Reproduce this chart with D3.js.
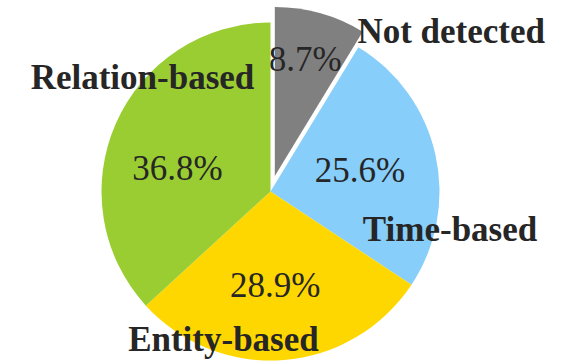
<!DOCTYPE html>
<html>
<head>
<meta charset="utf-8">
<script src="https://cdn.jsdelivr.net/npm/d3@7.9.0/dist/d3.min.js"></script>
<style>
  html, body { margin: 0; padding: 0; background: #fff; }
  svg { display: block; }
  svg text { font-family: 'Liberation Serif', 'Times New Roman', Times, serif; fill: #262626; }
</style>
</head>
<body>
<svg width="582" height="364"></svg>
<script>
// data
let categories = ['Not detected', 'Time-based', 'Entity-based', 'Relation-based'];
let shares = [8.7, 25.6, 28.9, 36.8];
let sliceColors = ['#808080', '#87cefa', '#ffd700', '#9acd32'];

// label placement: [angle in degrees clockwise from 12 o'clock, radius as fraction of R]
let valueLabelPos = [[14.6, 0.715], [76.8, 0.544], [177.1, 0.554], [284.4, 0.568]];
let nameLabelPos = [[48.4, 1.43], [101.7, 1.085], [197.7, 0.916], [311.9, 1.018]];
let explodeIndex = 0;  // the gray slice is pulled out

const width = 582, height = 364;
const R = 169;
const cx = 270.5, cy = 191.5;
const explodeBy = 16;
const rad = (deg) => deg * Math.PI / 180;

let svg = d3.select('svg');
let g = svg.append('g').attr('transform', `translate(${cx},${cy})`);

let data = categories.map((c, i) => ({ label: c, value: shares[i], i }));

let pie = d3.pie().sort(null).value(d => d.value);
let arc = d3.arc().innerRadius(0).outerRadius(R);
let arcs = pie(data);

arcs.forEach((a) => {
  let i = a.data.i;
  let off = [0, 0];
  if (i === explodeIndex) {
    off = d3.pointRadial((a.startAngle + a.endAngle) / 2, explodeBy);
  }
  let sg = g.append('g').attr('transform', `translate(${off[0]},${off[1]})`);
  sg.append('path')
    .attr('d', arc(a))
    .attr('fill', sliceColors[i]);

  // percentage inside the slice
  let [ang, k] = valueLabelPos[i];
  let p = d3.pointRadial(rad(ang), R * k);
  sg.append('text')
    .attr('x', p[0])
    .attr('y', p[1])
    .attr('dy', '0.34em')
    .attr('text-anchor', 'middle')
    .style('font-size', '35px')
    .text(a.data.value.toFixed(1) + '%');
});

// category names
arcs.forEach((a) => {
  let i = a.data.i;
  let [ang, k] = nameLabelPos[i];
  let p = d3.pointRadial(rad(ang), R * k);
  g.append('text')
    .attr('x', p[0])
    .attr('y', p[1])
    .attr('dy', '0.34em')
    .attr('text-anchor', 'middle')
    .style('font-size', '35px')
    .style('font-weight', 'bold')
    .text(a.data.label);
});
</script>
</body>
</html>
